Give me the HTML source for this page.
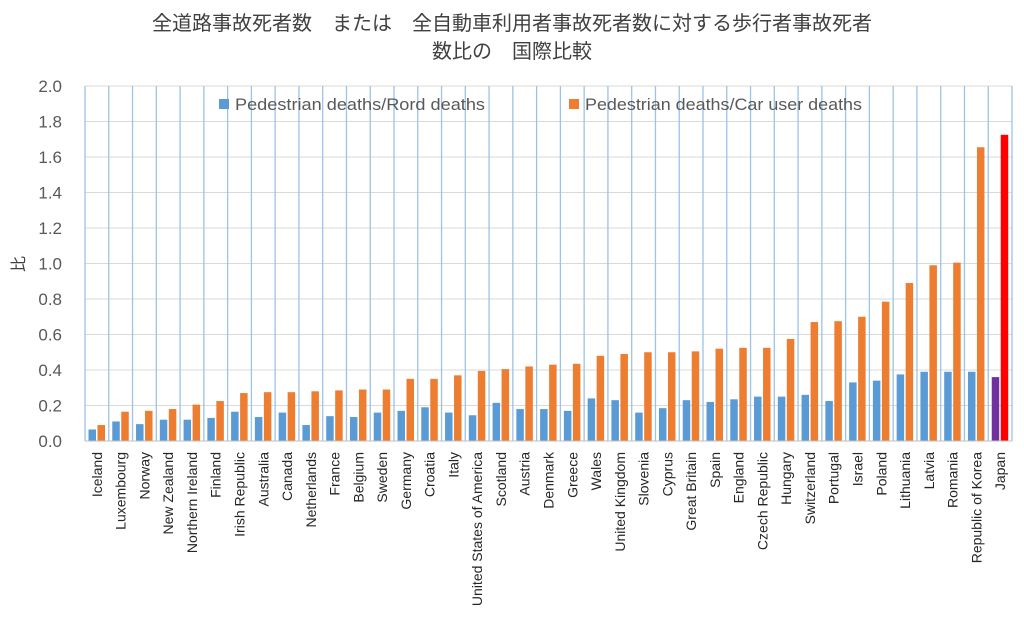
<!DOCTYPE html>
<html><head><meta charset="utf-8"><style>
html,body{margin:0;padding:0;background:#fff;width:1024px;height:641px;overflow:hidden}
svg{display:block;font-family:"Liberation Sans","Noto Sans CJK JP",sans-serif}
</style></head><body>
<svg id="s" width="1024" height="641" viewBox="0 0 1024 641">
<text x="512" y="30" text-anchor="middle" font-size="20" fill="#404040">全道路事故死者数　または　全自動車利用者事故死者数に対する歩行者事故死者</text>
<text x="512" y="58" text-anchor="middle" font-size="20" fill="#404040">数比の　国際比較</text>
<text transform="translate(24,264) rotate(-90)" text-anchor="middle" font-size="16" fill="#404040">比</text>
</svg>
<script>
var d=[["Iceland",.065,.09],["Luxembourg",.11,.165],["Norway",.095,.17],["New Zealand",.12,.18],["Northern Ireland",.12,.205],["Finland",.13,.225],["Irish Republic",.165,.27],["Australia",.135,.275],["Canada",.16,.275],["Netherlands",.09,.28],["France",.14,.285],["Belgium",.135,.29],["Sweden",.16,.29],["Germany",.17,.35],["Croatia",.19,.35],["Italy",.16,.37],["United States of America",.145,.395],["Scotland",.215,.405],["Austria",.18,.42],["Denmark",.18,.43],["Greece",.17,.435],["Wales",.24,.48],["United Kingdom",.23,.49],["Slovenia",.16,.5],["Cyprus",.185,.5],["Great Britain",.23,.505],["Spain",.22,.52],["England",.235,.525],["Czech Republic",.25,.525],["Hungary",.25,.575],["Switzerland",.26,.67],["Portugal",.225,.675],["Israel",.33,.7],["Poland",.34,.785],["Lithuania",.375,.89],["Latvia",.39,.99],["Romania",.39,1.005],["Republic of Korea",.39,1.655],["Japan",.36,1.725]];
var s=document.getElementById('s'),h='';
var L=85,R=1012,B=441,T=86,k=(B-T)/2,w=(R-L)/39;
for(var i=0;i<=10;i++){var y=B-i*0.2*k;h+='<line x1="'+L+'" x2="'+R+'" y1="'+y+'" y2="'+y+'" stroke="#d9d9d9"/>';
h+='<text x="62" y="'+(y+6)+'" text-anchor="end" font-size="17" fill="#595959">'+(i*0.2).toFixed(1)+'</text>';}
for(var i=0;i<=39;i++){var x=L+i*w;h+='<line x1="'+x+'" x2="'+x+'" y1="'+T+'" y2="'+B+'" stroke="#9dc3e6" stroke-width="1.3"/>';}
d.forEach(function(r,i){var x=L+i*w,j=i==d.length-1;
h+='<rect x="'+(x+3.5)+'" y="'+(B-r[1]*k)+'" width="7.5" height="'+(r[1]*k)+'" fill="'+(j?'#7030a0':'#5b9bd5')+'"/>';
h+='<rect x="'+(x+12.5)+'" y="'+(B-r[2]*k)+'" width="7.5" height="'+(r[2]*k)+'" fill="'+(j?'#ff0000':'#ed7d31')+'"/>';
h+='<text transform="translate('+(x+w/2+5)+',452) rotate(-90)" text-anchor="end" font-size="14" fill="#262626">'+r[0]+'</text>';});
h+='<line x1="'+L+'" x2="'+R+'" y1="'+B+'" y2="'+B+'" stroke="#bfbfbf"/>';
h+='<rect x="219" y="99" width="10" height="10" fill="#5b9bd5"/><text x="235" y="110" font-size="17" fill="#595959" textLength="250" lengthAdjust="spacingAndGlyphs">Pedestrian deaths/Rord deaths</text>';
h+='<rect x="569" y="99" width="10" height="10" fill="#ed7d31"/><text x="585" y="110" font-size="17" fill="#595959" textLength="277" lengthAdjust="spacingAndGlyphs">Pedestrian deaths/Car user deaths</text>';
s.insertAdjacentHTML('beforeend',h);
</script>
</body></html>
